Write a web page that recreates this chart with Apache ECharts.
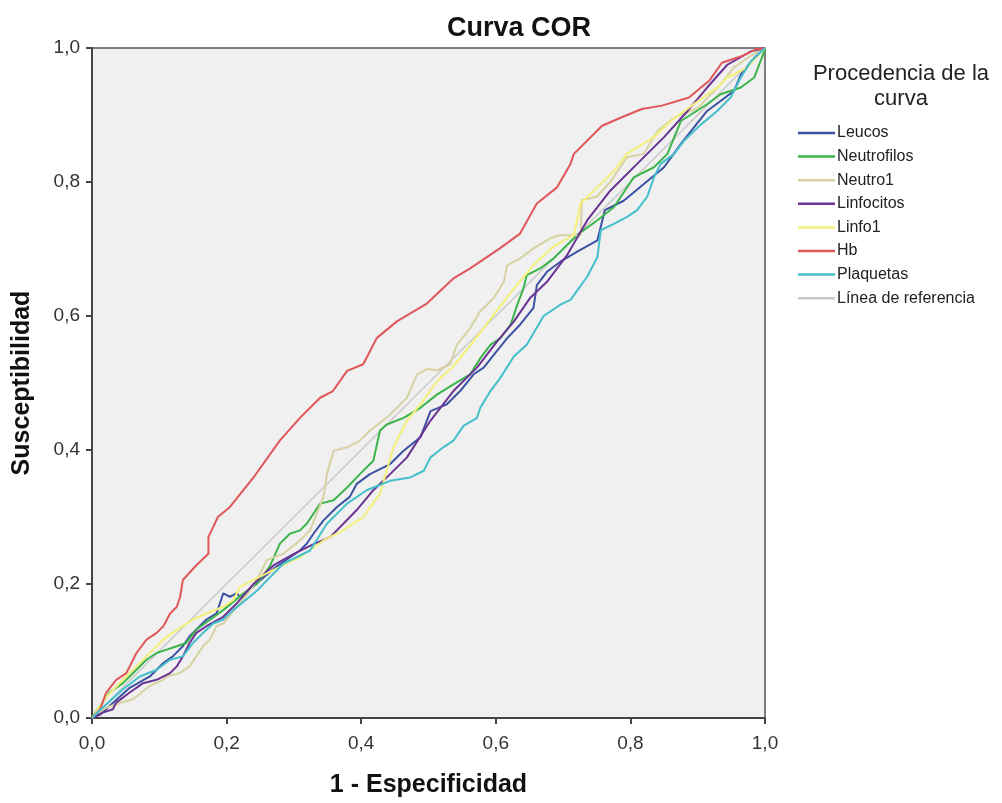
<!DOCTYPE html>
<html>
<head>
<meta charset="utf-8">
<script src="https://cdn.jsdelivr.net/npm/echarts@6/dist/echarts.min.js"></script>
<style>
  html, body { margin: 0; padding: 0; background: #fff; }
  #roc-chart { width: 1002px; height: 803px; }
</style>
</head>
<body>
<div id="roc-chart"></div>
<script>
var ticks = [0, 0.2, 0.4, 0.6, 0.8, 1];

var hbX = [0, 0.012, 0.021, 0.036, 0.051, 0.066, 0.081, 0.096, 0.106, 0.116, 0.126, 0.131, 0.135, 0.155, 0.173, 0.173, 0.187, 0.205, 0.24, 0.279, 0.309, 0.339, 0.358, 0.379, 0.403, 0.423, 0.453, 0.498, 0.537, 0.562, 0.606, 0.636, 0.661, 0.691, 0.711, 0.716, 0.758, 0.788, 0.817, 0.847, 0.887, 0.917, 0.936, 0.966, 0.986, 1];
var hbY = [0, 0.013, 0.038, 0.057, 0.067, 0.097, 0.117, 0.127, 0.137, 0.156, 0.166, 0.181, 0.206, 0.228, 0.245, 0.27, 0.3, 0.315, 0.359, 0.414, 0.448, 0.478, 0.488, 0.518, 0.528, 0.567, 0.592, 0.619, 0.656, 0.671, 0.701, 0.723, 0.768, 0.792, 0.827, 0.842, 0.884, 0.897, 0.909, 0.914, 0.926, 0.951, 0.978, 0.988, 0.998, 1];

var leucosX = [0, 0.012, 0.026, 0.056, 0.086, 0.106, 0.12, 0.135, 0.145, 0.15, 0.155, 0.17, 0.185, 0.195, 0.205, 0.215, 0.22, 0.245, 0.274, 0.309, 0.319, 0.329, 0.344, 0.364, 0.383, 0.393, 0.413, 0.443, 0.463, 0.488, 0.503, 0.527, 0.547, 0.567, 0.582, 0.597, 0.617, 0.636, 0.656, 0.661, 0.676, 0.696, 0.721, 0.751, 0.762, 0.79, 0.82, 0.85, 0.875, 0.89, 0.914, 0.934, 0.954, 0.964, 0.984, 1];
var leucosY = [0, 0.005, 0.018, 0.045, 0.062, 0.082, 0.092, 0.107, 0.122, 0.127, 0.132, 0.147, 0.156, 0.186, 0.181, 0.186, 0.181, 0.201, 0.226, 0.25, 0.26, 0.275, 0.295, 0.315, 0.33, 0.349, 0.364, 0.379, 0.399, 0.419, 0.458, 0.468, 0.488, 0.513, 0.523, 0.542, 0.567, 0.587, 0.612, 0.646, 0.666, 0.681, 0.696, 0.713, 0.758, 0.772, 0.797, 0.822, 0.857, 0.876, 0.906, 0.921, 0.936, 0.96, 0.985, 1];

var neutroX = [0, 0.005, 0.026, 0.046, 0.066, 0.081, 0.096, 0.111, 0.126, 0.14, 0.155, 0.195, 0.225, 0.245, 0.264, 0.279, 0.294, 0.309, 0.319, 0.339, 0.359, 0.379, 0.398, 0.418, 0.428, 0.438, 0.463, 0.488, 0.513, 0.537, 0.562, 0.577, 0.592, 0.607, 0.622, 0.632, 0.641, 0.646, 0.666, 0.686, 0.706, 0.721, 0.751, 0.776, 0.805, 0.835, 0.855, 0.875, 0.914, 0.934, 0.964, 0.984, 0.999, 1];
var neutroY = [0, 0.008, 0.038, 0.052, 0.072, 0.087, 0.097, 0.102, 0.107, 0.112, 0.132, 0.161, 0.186, 0.2, 0.226, 0.26, 0.275, 0.28, 0.29, 0.32, 0.325, 0.344, 0.364, 0.384, 0.429, 0.438, 0.448, 0.463, 0.483, 0.498, 0.513, 0.537, 0.557, 0.567, 0.587, 0.617, 0.641, 0.661, 0.671, 0.686, 0.706, 0.721, 0.743, 0.763, 0.807, 0.822, 0.842, 0.891, 0.916, 0.931, 0.941, 0.956, 0.995, 1];

var neutro1X = [0, 0.02, 0.04, 0.061, 0.086, 0.106, 0.111, 0.13, 0.145, 0.155, 0.165, 0.175, 0.185, 0.195, 0.215, 0.235, 0.25, 0.26, 0.284, 0.309, 0.324, 0.344, 0.349, 0.359, 0.379, 0.398, 0.413, 0.44, 0.468, 0.483, 0.498, 0.513, 0.532, 0.542, 0.562, 0.577, 0.597, 0.612, 0.617, 0.636, 0.656, 0.681, 0.696, 0.726, 0.728, 0.75, 0.77, 0.795, 0.82, 0.84, 0.865, 0.9, 0.934, 0.954, 0.974, 0.994, 1];
var neutro1Y = [0, 0.015, 0.022, 0.028, 0.048, 0.057, 0.062, 0.067, 0.077, 0.092, 0.107, 0.117, 0.137, 0.141, 0.166, 0.19, 0.216, 0.236, 0.245, 0.265, 0.28, 0.33, 0.364, 0.399, 0.404, 0.414, 0.429, 0.45, 0.478, 0.513, 0.521, 0.519, 0.528, 0.557, 0.582, 0.607, 0.627, 0.651, 0.676, 0.686, 0.701, 0.716, 0.721, 0.72, 0.773, 0.778, 0.8, 0.837, 0.842, 0.876, 0.896, 0.91, 0.946, 0.971, 0.985, 0.998, 1];

var linfoX = [0, 0.016, 0.031, 0.036, 0.056, 0.076, 0.096, 0.116, 0.126, 0.135, 0.145, 0.155, 0.17, 0.195, 0.215, 0.24, 0.27, 0.3, 0.33, 0.354, 0.393, 0.418, 0.443, 0.468, 0.503, 0.537, 0.572, 0.602, 0.627, 0.651, 0.676, 0.706, 0.736, 0.77, 0.81, 0.85, 0.885, 0.914, 0.944, 0.979, 1];
var linfoY = [0, 0.008, 0.013, 0.023, 0.038, 0.052, 0.057, 0.067, 0.077, 0.092, 0.112, 0.127, 0.137, 0.151, 0.171, 0.2, 0.228, 0.245, 0.26, 0.27, 0.31, 0.34, 0.364, 0.389, 0.444, 0.488, 0.523, 0.562, 0.592, 0.627, 0.651, 0.691, 0.743, 0.787, 0.827, 0.867, 0.906, 0.941, 0.975, 0.995, 1];

var linfo1X = [0, 0.02, 0.046, 0.071, 0.091, 0.106, 0.12, 0.135, 0.15, 0.17, 0.195, 0.21, 0.22, 0.27, 0.309, 0.344, 0.373, 0.403, 0.428, 0.438, 0.448, 0.468, 0.488, 0.513, 0.537, 0.567, 0.597, 0.627, 0.656, 0.686, 0.716, 0.726, 0.751, 0.776, 0.795, 0.835, 0.86, 0.894, 0.929, 0.944, 0.974, 1];
var linfo1Y = [0, 0.03, 0.057, 0.082, 0.102, 0.117, 0.127, 0.137, 0.147, 0.156, 0.166, 0.176, 0.196, 0.221, 0.24, 0.265, 0.28, 0.3, 0.335, 0.369, 0.404, 0.444, 0.468, 0.503, 0.525, 0.562, 0.602, 0.641, 0.676, 0.704, 0.721, 0.768, 0.792, 0.817, 0.842, 0.867, 0.891, 0.916, 0.941, 0.956, 0.971, 1];

var plaqX = [0, 0.01, 0.046, 0.071, 0.096, 0.116, 0.135, 0.15, 0.165, 0.18, 0.195, 0.21, 0.245, 0.284, 0.324, 0.349, 0.379, 0.408, 0.443, 0.473, 0.493, 0.503, 0.522, 0.537, 0.552, 0.572, 0.577, 0.592, 0.607, 0.627, 0.646, 0.671, 0.696, 0.711, 0.736, 0.751, 0.756, 0.776, 0.795, 0.81, 0.825, 0.835, 0.845, 0.865, 0.88, 0.905, 0.929, 0.949, 0.964, 0.979, 1];
var plaqY = [0, 0.01, 0.043, 0.062, 0.072, 0.087, 0.092, 0.112, 0.127, 0.141, 0.147, 0.161, 0.19, 0.23, 0.25, 0.29, 0.32, 0.34, 0.354, 0.359, 0.369, 0.389, 0.404, 0.414, 0.436, 0.448, 0.463, 0.488, 0.508, 0.54, 0.557, 0.6, 0.617, 0.624, 0.659, 0.688, 0.728, 0.738, 0.748, 0.758, 0.778, 0.807, 0.827, 0.842, 0.862, 0.886, 0.906, 0.926, 0.956, 0.98, 1];

var refX = [0, 1];
var refY = [0, 1];

function pairs(xs, ys) {
    return xs.map(function (x, i) { return [x, ys[i]]; });
}

var chartDom = document.getElementById('roc-chart');
var myChart = echarts.init(chartDom);

var font = '"Liberation Sans", Arial, sans-serif';

function curve(name, xs, ys, color, width) {
    return {
        name: name,
        type: 'line',
        data: pairs(xs, ys),
        symbol: 'none',
        animation: false,
        lineStyle: { color: color, width: width },
        itemStyle: { color: color }
    };
}

function commaLabel(v) {
    return v.toFixed(1).replace('.', ',');
}

var option = {
    backgroundColor: '#ffffff',
    textStyle: { fontFamily: font },
    title: [
        {
            text: 'Curva COR',
            left: 514,
            top: 10,
            textAlign: 'center',
            textStyle: { fontSize: 27, fontWeight: 'bold', color: '#111', fontFamily: font }
        },
        {
            text: 'Procedencia de la\ncurva',
            left: 896,
            top: 56,
            textAlign: 'center',
            textStyle: { fontSize: 22, fontWeight: 'normal', color: '#222', lineHeight: 25, fontFamily: font }
        }
    ],
    legend: {
        orient: 'vertical',
        left: 793,
        top: 120,
        icon: 'rect',
        itemWidth: 37,
        itemHeight: 2.5,
        itemGap: 7.6,
        textStyle: { fontSize: 16, lineHeight: 16, color: '#222', padding: [0, 0, 0, -3], fontFamily: font },
        data: ['Leucos', 'Neutrofilos', 'Neutro1', 'Linfocitos', 'Linfo1', 'Hb', 'Plaquetas', 'Línea de referencia']
    },
    grid: {
        left: 92,
        right: 237,
        top: 48,
        bottom: 81,
        show: true,
        backgroundColor: '#f0f0f0',
        borderColor: '#555',
        borderWidth: 1.5
    },
    xAxis: {
        type: 'value',
        min: 0,
        max: 1,
        interval: 0.2,
        name: '1 - Especificidad',
        nameLocation: 'middle',
        nameGap: 55,
        nameTextStyle: { fontSize: 25, fontWeight: 'bold', color: '#111', fontFamily: font },
        axisLine: { lineStyle: { color: '#444', width: 2 } },
        axisTick: { show: true, length: 6, lineStyle: { color: '#444', width: 2 } },
        axisLabel: { fontSize: 19, color: '#333', margin: 16, formatter: commaLabel },
        splitLine: { show: false }
    },
    yAxis: {
        type: 'value',
        min: 0,
        max: 1,
        interval: 0.2,
        name: 'Susceptibilidad',
        nameLocation: 'middle',
        nameGap: 57,
        nameTextStyle: { fontSize: 25, fontWeight: 'bold', color: '#111', fontFamily: font },
        axisLine: { show: true, lineStyle: { color: '#444', width: 2 } },
        axisTick: { show: true, length: 6, lineStyle: { color: '#444', width: 2 } },
        axisLabel: { fontSize: 19, color: '#333', margin: 12, formatter: commaLabel },
        splitLine: { show: false }
    },
    series: [
        curve('Línea de referencia', refX, refY, '#c9c9c9', 1.5),
        curve('Leucos', leucosX, leucosY, '#3d51a3', 2),
        curve('Neutrofilos', neutroX, neutroY, '#3bb44a', 2),
        curve('Neutro1', neutro1X, neutro1Y, '#d6d2a2', 2),
        curve('Linfocitos', linfoX, linfoY, '#6b3394', 2),
        curve('Linfo1', linfo1X, linfo1Y, '#f4f07a', 2),
        curve('Hb', hbX, hbY, '#e0575a', 2),
        curve('Plaquetas', plaqX, plaqY, '#44bfcb', 2)
    ]
};

myChart.setOption(option);
</script>
</body>
</html>
